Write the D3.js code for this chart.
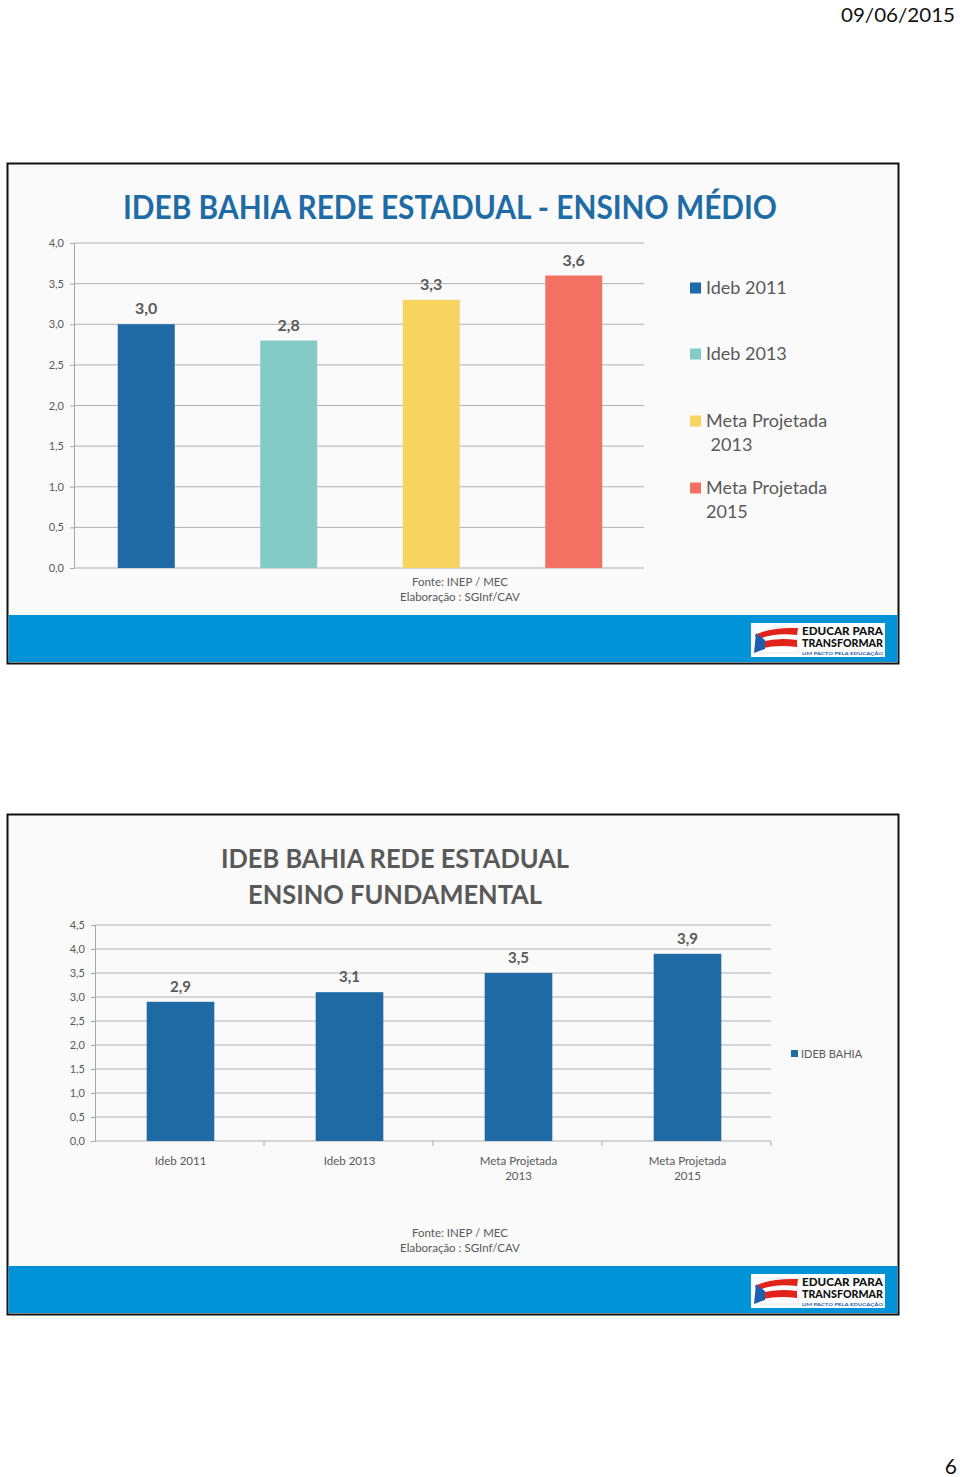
<!DOCTYPE html>
<html><head><meta charset="utf-8">
<script src="https://cdn.jsdelivr.net/npm/d3@7"></script>
<style>body{margin:0;background:#fff;} svg{display:block;font-family:Lato,"Open Sans",sans-serif;}</style>
</head><body>
<script>
// ---- Data ----
const medioCategories = ["Ideb 2011", "Ideb 2013", "Meta Projetada 2013", "Meta Projetada 2015"];
const medioValues = [3.0, 2.8, 3.3, 3.6];
const medioLabels = ["3,0", "2,8", "3,3", "3,6"];
const medioTicks = [0, 0.5, 1, 1.5, 2, 2.5, 3, 3.5, 4];
const medioLegend = [["Ideb 2011"], ["Ideb 2013"], ["Meta Projetada", " 2013"], ["Meta Projetada", "2015"]];

const fundCategories = [["Ideb 2011"], ["Ideb 2013"], ["Meta Projetada", "2013"], ["Meta Projetada", "2015"]];
const fundValues = [2.9, 3.1, 3.5, 3.9];
const fundLabels = ["2,9", "3,1", "3,5", "3,9"];
const fundTicks = [0, 0.5, 1, 1.5, 2, 2.5, 3, 3.5, 4, 4.5];

const colors = ["#1F69A4", "#84CBC5", "#F7D35F", "#F27162"];
const gray = "#595959";
const fmt = v => d3.format(".1f")(v).replace(".", ",");

const svg = d3.select("body").append("svg").attr("width", 960).attr("height", 1477);

// date and page number
svg.append("text").attr("x", 955).attr("y", 22).attr("text-anchor", "end")
  .style("font-size", "20px").attr("fill", "#111").attr("textLength", 114).attr("lengthAdjust", "spacingAndGlyphs").text("09/06/2015");
svg.append("text").attr("x", 957).attr("y", 1474).attr("text-anchor", "end")
  .style("font-size", "21px").attr("fill", "#111").text("6");

function slideFrame(y0) {
  const g = svg.append("g");
  g.append("rect").attr("x", 7.5).attr("y", y0 + 0.5).attr("width", 891).attr("height", 500)
    .attr("fill", "#FAFAFA").attr("stroke", "#111").attr("stroke-width", 2);
  g.append("rect").attr("x", 8.5).attr("y", y0 + 452).attr("width", 889).attr("height", 47).attr("fill", "#0093D8");
  // logo
  const lg = g.append("g").attr("transform", `translate(751,${y0 + 460})`);
  lg.append("rect").attr("width", 134).attr("height", 34).attr("fill", "#fff");
  lg.append("path").attr("d", "M3,30 Q10,12 22,4 L47,5 Q44,18 48,30 Z").attr("fill", "#fff").attr("stroke", "#ccc").attr("stroke-width", 0.5);
  lg.append("path").attr("d", "M4,12 Q20,4 47,5 L46,12 Q22,9 6,17 Z").attr("fill", "#E2231A");
  lg.append("path").attr("d", "M6,20 Q24,14 46,17 L46,24 Q24,21 5,27 Z").attr("fill", "#E2231A");
  lg.append("path").attr("d", "M3,30 L5,10 Q10,14 14,17 L14,26 Z").attr("fill", "#1D5FAE");
  lg.append("text").attr("x", 51).attr("y", 12).style("font-size", "11px").style("font-weight", "900")
    .attr("fill", "#111").attr("textLength", 81).attr("lengthAdjust", "spacingAndGlyphs").text("EDUCAR PARA");
  lg.append("text").attr("x", 51).attr("y", 23.5).style("font-size", "11px").style("font-weight", "900")
    .attr("fill", "#111").attr("textLength", 81).attr("lengthAdjust", "spacingAndGlyphs").text("TRANSFORMAR");
  lg.append("text").attr("x", 51).attr("y", 31.5).style("font-size", "4.5px").style("font-weight", "700")
    .attr("fill", "#1D5FAE").attr("textLength", 81).attr("lengthAdjust", "spacingAndGlyphs").text("UM PACTO PELA EDUCAÇÃO");
  return g;
}

function source(g, y) {
  g.append("text").attr("x", 460).attr("y", y).attr("text-anchor", "middle").style("font-size", "11.5px")
    .attr("fill", gray).text("Fonte: INEP / MEC");
  g.append("text").attr("x", 460).attr("y", y + 15).attr("text-anchor", "middle").style("font-size", "11.5px")
    .attr("fill", gray).text("Elaboração : SGInf/CAV");
}

// ---------- Slide 1: Ensino Médio ----------
{
  const g = slideFrame(163);
  g.append("text").attr("x", 450).attr("y", 219).attr("text-anchor", "middle")
    .style("font-size", "32px").style("font-weight", "700").attr("fill", "#1F6BA6")
    .attr("textLength", 654).attr("lengthAdjust", "spacingAndGlyphs")
    .text("IDEB BAHIA REDE ESTADUAL - ENSINO MÉDIO");

  const x = d3.scaleBand().domain(medioCategories).range([75, 645]).paddingInner(0.6).paddingOuter(0.3);
  const y = d3.scaleLinear().domain([0, 4]).range([568, 243]);

  g.append("g").selectAll("line").data(medioTicks).join("line")
    .attr("x1", 74).attr("x2", 644).attr("y1", d => y(d)).attr("y2", d => y(d))
    .attr("stroke", "#B0B0B0").attr("stroke-width", 1);

  const yAxis = d3.axisLeft(y).tickValues(medioTicks).tickFormat(fmt).tickSize(4).tickPadding(6);
  const ya = g.append("g").attr("transform", "translate(74,0)").call(yAxis);
  ya.select(".domain").attr("stroke", "#A6A6A6");
  ya.selectAll(".tick line").attr("stroke", "#A6A6A6");
  ya.selectAll("text").attr("fill", gray).style("font-size", "11px").attr("font-family", "Lato,'Open Sans',sans-serif");

  g.append("g").selectAll("rect").data(medioValues).join("rect")
    .attr("x", (d, i) => x(medioCategories[i])).attr("width", x.bandwidth())
    .attr("y", d => y(d)).attr("height", d => y(0) - y(d)).attr("fill", (d, i) => colors[i]);

  g.append("g").selectAll("text").data(medioValues).join("text")
    .attr("x", (d, i) => x(medioCategories[i]) + x.bandwidth() / 2).attr("y", d => y(d) - 10)
    .attr("text-anchor", "middle").style("font-size", "16px").style("font-weight", "700")
    .attr("fill", gray).text((d, i) => medioLabels[i]);

  const legY = [288, 354, 421, 488];
  const lg = g.append("g");
  medioLegend.forEach((lines, i) => {
    lg.append("rect").attr("x", 690).attr("y", legY[i] - 5.5).attr("width", 11).attr("height", 11).attr("fill", colors[i]);
    lines.forEach((t, j) => {
      lg.append("text").attr("x", 706).attr("y", legY[i] + 6 + j * 24).style("font-size", "18px")
        .attr("fill", gray).attr("xml:space", "preserve").text(t);
    });
  });

  source(g, 586);
}

// ---------- Slide 2: Ensino Fundamental ----------
{
  const g = slideFrame(814);
  g.append("text").attr("x", 395).attr("y", 868).attr("text-anchor", "middle")
    .style("font-size", "27px").style("font-weight", "700").attr("fill", gray)
    .attr("textLength", 348).attr("lengthAdjust", "spacingAndGlyphs").text("IDEB BAHIA REDE ESTADUAL");
  g.append("text").attr("x", 395).attr("y", 904).attr("text-anchor", "middle")
    .style("font-size", "27px").style("font-weight", "700").attr("fill", gray)
    .attr("textLength", 294).attr("lengthAdjust", "spacingAndGlyphs").text("ENSINO FUNDAMENTAL");

  const keys = fundCategories.map(c => c.join(" "));
  const x = d3.scaleBand().domain(keys).range([96, 772]).paddingInner(0.6).paddingOuter(0.3);
  const y = d3.scaleLinear().domain([0, 4.5]).range([1141, 925]);

  g.append("g").selectAll("line").data(fundTicks).join("line")
    .attr("x1", 95).attr("x2", 771).attr("y1", d => y(d)).attr("y2", d => y(d))
    .attr("stroke", "#B0B0B0").attr("stroke-width", 1);

  const yAxis = d3.axisLeft(y).tickValues(fundTicks).tickFormat(fmt).tickSize(4).tickPadding(6);
  const ya = g.append("g").attr("transform", "translate(95,0)").call(yAxis);
  ya.select(".domain").attr("stroke", "#A6A6A6");
  ya.selectAll(".tick line").attr("stroke", "#A6A6A6");
  ya.selectAll("text").attr("fill", gray).style("font-size", "11px").attr("font-family", "Lato,'Open Sans',sans-serif");

  // category boundary ticks
  const step = x.step();
  g.append("g").selectAll("line").data(keys).join("line")
    .attr("x1", d => x(d) - x.paddingInner() * step / 2 + step - 1).attr("x2", d => x(d) - x.paddingInner() * step / 2 + step - 1)
    .attr("y1", 1141).attr("y2", 1146).attr("stroke", "#A6A6A6");

  g.append("g").selectAll("rect").data(fundValues).join("rect")
    .attr("x", (d, i) => x(keys[i])).attr("width", x.bandwidth())
    .attr("y", d => y(d)).attr("height", d => y(0) - y(d)).attr("fill", colors[0]);

  g.append("g").selectAll("text").data(fundValues).join("text")
    .attr("x", (d, i) => x(keys[i]) + x.bandwidth() / 2).attr("y", d => y(d) - 10)
    .attr("text-anchor", "middle").style("font-size", "15px").style("font-weight", "700")
    .attr("fill", gray).text((d, i) => fundLabels[i]);

  const cl = g.append("g");
  fundCategories.forEach((lines, i) => {
    lines.forEach((t, j) => {
      cl.append("text").attr("x", x(keys[i]) + x.bandwidth() / 2).attr("y", 1165 + j * 15)
        .attr("text-anchor", "middle").style("font-size", "11.5px").attr("fill", gray).text(t);
    });
  });

  g.append("rect").attr("x", 791).attr("y", 1050).attr("width", 7).attr("height", 7).attr("fill", colors[0]);
  g.append("text").attr("x", 801).attr("y", 1058).style("font-size", "11px").attr("fill", gray).text("IDEB BAHIA");

  source(g, 1237);
}
</script>
</body></html>
